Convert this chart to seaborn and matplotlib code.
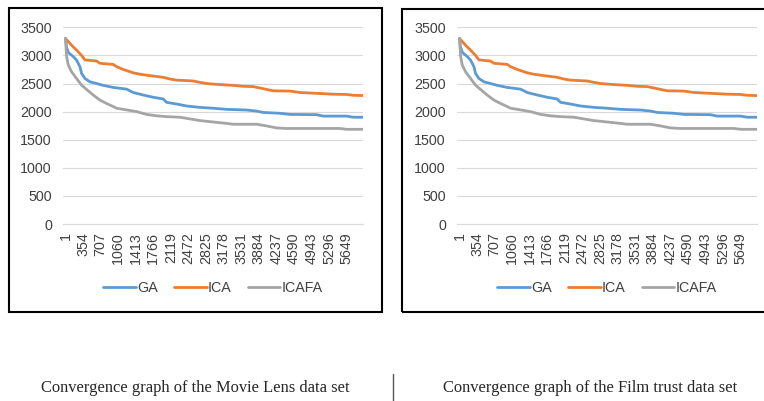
import numpy as np
import pandas as pd
import seaborn as sns
import matplotlib.pyplot as plt
from matplotlib.patches import Rectangle
from matplotlib.lines import Line2D

# valores (iteracion, costo)
ga_iter = [1, 20, 60, 155, 222, 290, 323, 390, 490, 624, 758, 959, 1093, 1227, 1361, 1562,
           1763, 1964, 2031, 2232, 2433, 2701, 2969, 3237, 3639, 3840, 3974, 4309, 4510,
           5046, 5180, 5649, 5783, 5980]
ga_val = [3300, 3150, 3050, 2980, 2917, 2800, 2680, 2590, 2530, 2500, 2467, 2430, 2415,
          2400, 2340, 2295, 2255, 2225, 2165, 2135, 2100, 2075, 2060, 2040, 2028, 2010,
          1985, 1970, 1950, 1945, 1920, 1920, 1900, 1900]

ica_iter = [1, 155, 222, 323, 390, 624, 691, 959, 1026, 1160, 1361, 1495, 1696, 1964, 2098,
            2232, 2567, 2701, 2835, 3036, 3371, 3572, 3773, 3907, 4041, 4175, 4510, 4711,
            5046, 5381, 5649, 5783, 5980]
ica_val = [3300, 3150, 3095, 3000, 2920, 2900, 2860, 2840, 2800, 2750, 2690, 2665, 2640,
           2610, 2580, 2560, 2545, 2520, 2500, 2485, 2467, 2450, 2445, 2420, 2395, 2370,
           2365, 2340, 2325, 2310, 2305, 2290, 2285]

icafa_iter = [1, 20, 55, 121, 222, 323, 423, 557, 691, 825, 959, 1026, 1227, 1428, 1629,
              1830, 2031, 2299, 2500, 2701, 2969, 3237, 3371, 3840, 4041, 4242, 4443, 5515,
              5649, 5980]
icafa_val = [3300, 3000, 2830, 2710, 2590, 2470, 2395, 2295, 2205, 2145, 2090, 2060, 2030,
             2000, 1950, 1925, 1910, 1900, 1870, 1840, 1815, 1790, 1775, 1775, 1745, 1710,
             1700, 1700, 1685, 1685]

series = ['GA', 'ICA', 'ICAFA']
colores = ['#5B9BD5', '#ED7D31', '#A5A5A5']
tick_labels = [1, 354, 707, 1060, 1413, 1766, 2119, 2472, 2825, 3178, 3531, 3884, 4237,
               4590, 4943, 5296, 5649]
titulos = ['Convergence graph of the Movie Lens data set',
           'Convergence graph of the Film trust data set']

df = pd.concat([
    pd.DataFrame({'Iter': ga_iter, 'Valor': ga_val, 'Serie': 'GA'}),
    pd.DataFrame({'Iter': ica_iter, 'Valor': ica_val, 'Serie': 'ICA'}),
    pd.DataFrame({'Iter': icafa_iter, 'Valor': icafa_val, 'Serie': 'ICAFA'}),
])

sns.set_style('white')
plt.rcParams['font.family'] = ['Liberation Sans', 'DejaVu Sans']

fig = plt.figure(figsize=(7.64, 4.01), dpi=100)
W, H = 764, 401

def px_ax(x0, x1, ytop, ybot):
    return [x0 / W, (H - ybot) / H, (x1 - x0) / W, (ybot - ytop) / H]

ejes = [fig.add_axes(px_ax(63, 363, 27.3, 224)), fig.add_axes(px_ax(457, 757, 27.3, 224))]

for ax in ejes:
    sns.lineplot(data=df, x='Iter', y='Valor', hue='Serie', hue_order=series,
                 palette=colores, linewidth=2, estimator=None, ax=ax)
    ax.set_xlim(-50, 5980)
    ax.set_ylim(0, 3500)
    ax.set_yticks(np.arange(0, 3501, 500))
    ax.set_xticks(tick_labels)
    ax.set_xticklabels([str(t) for t in tick_labels], rotation=90)
    ax.tick_params(axis='both', labelsize=10.3, colors='#404040', length=0)
    ax.tick_params(axis='y', pad=8)
    ax.tick_params(axis='x', pad=6)
    ax.grid(axis='y', color='#d9d9d9', linewidth=0.8)
    for s in ['top', 'left', 'right']:
        ax.spines[s].set_visible(False)
    ax.spines['bottom'].set_color('#d9d9d9')
    ax.set_xlabel('')
    ax.set_ylabel('')
    ax.legend(loc='center', bbox_to_anchor=(0.5, -0.325), ncol=3, frameon=False,
              fontsize=10.3, handlelength=2.3, handletextpad=0.1, columnspacing=1.1,
              labelcolor='#404040')

# marcos de cada grafico
fig.patches.append(Rectangle((9 / W, (H - 312) / H), 373 / W, 304 / H, fill=False,
                             edgecolor='black', linewidth=1.5, transform=fig.transFigure))
fig.patches.append(Rectangle((402 / W, (H - 312) / H), 370 / W, 303 / H, fill=False,
                             edgecolor='black', linewidth=1.5, transform=fig.transFigure))

fig.text(195 / W, (H - 388) / H, titulos[0], ha='center', va='center', fontsize=11.9,
         family=['Liberation Serif', 'DejaVu Serif'])
fig.text(590 / W, (H - 388) / H, titulos[1], ha='center', va='center', fontsize=11.9,
         family=['Liberation Serif', 'DejaVu Serif'])
fig.lines.append(Line2D([393 / W, 393 / W], [0, (H - 374) / H], color='#555555',
                        linewidth=1, transform=fig.transFigure))

plt.savefig('out.png', dpi=100)
